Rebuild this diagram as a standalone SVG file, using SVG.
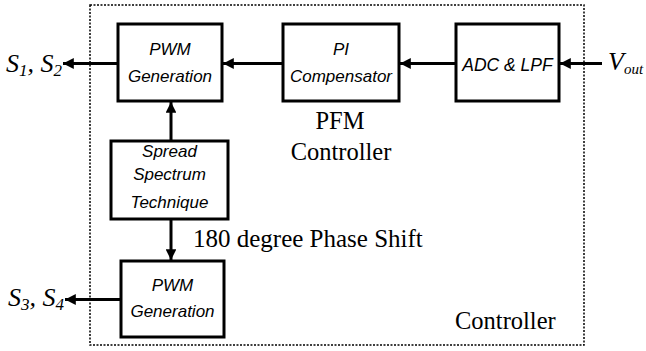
<svg xmlns="http://www.w3.org/2000/svg" width="646" height="351" viewBox="0 0 646 351">
<style>
.box{fill:#fff;stroke:#000;stroke-width:3}
.bt{font-family:"Liberation Sans",Arial,sans-serif;font-style:italic;font-size:17px;text-anchor:middle;fill:#000}
.st{font-family:"Liberation Serif","Times New Roman",serif;font-size:25px;fill:#000}
.sig{font-family:"Liberation Serif","Times New Roman",serif;font-style:italic;font-size:26px;fill:#000}
.ln{stroke:#000;stroke-width:3;fill:none;marker-end:url(#ah)}
</style>
<defs>
<marker id="ah" viewBox="0 0 10 10" refX="10" refY="5" markerWidth="4.3" markerHeight="3.6" orient="auto" markerUnits="strokeWidth">
<path d="M0,0 L10,5 L0,10 Z" fill="#000"/>
</marker>
</defs>
<rect id="outer" x="90" y="5" width="494" height="340" fill="none" stroke="#000" stroke-width="1.5" stroke-dasharray="2,1.5"/>
<g id="connectors">
<line class="ln" x1="118" y1="63.5" x2="63" y2="63.5"/>
<line class="ln" x1="283" y1="63.5" x2="223" y2="63.5"/>
<line class="ln" x1="456" y1="63.5" x2="400" y2="63.5"/>
<line class="ln" x1="602" y1="63.5" x2="560" y2="63.5"/>
<line class="ln" x1="171" y1="141" x2="171" y2="102"/>
<line class="ln" x1="171" y1="219" x2="171" y2="260"/>
<line class="ln" x1="121" y1="299.5" x2="65" y2="299.5"/>
</g>
<g id="pwm1">
<rect class="box" x="118" y="24" width="104" height="77"/>
<text class="bt" x="170" y="55">PWM</text>
<text class="bt" x="170" y="82">Generation</text>
</g>
<g id="pi">
<rect class="box" x="283" y="24" width="116" height="77"/>
<text class="bt" x="341" y="55">PI</text>
<text class="bt" x="341" y="82">Compensator</text>
</g>
<g id="adc">
<rect class="box" x="456" y="24" width="103" height="77"/>
<text class="bt" x="507.5" y="71" style="font-size:17.5px">ADC &amp; LPF</text>
</g>
<g id="spread">
<rect class="box" x="111" y="141" width="117" height="78"/>
<text class="bt" x="169.5" y="157">Spread</text>
<text class="bt" x="169.5" y="180">Spectrum</text>
<text class="bt" x="169.5" y="208">Technique</text>
</g>
<g id="pwm2">
<rect class="box" x="121" y="261" width="103" height="76"/>
<text class="bt" x="172.5" y="291">PWM</text>
<text class="bt" x="172.5" y="317">Generation</text>
</g>
<g id="labels">
<text class="sig" x="6" y="72">S<tspan font-size="17" dy="4">1</tspan><tspan dy="-4">, S</tspan><tspan font-size="17" dy="4">2</tspan></text>
<text class="sig" x="8" y="306">S<tspan font-size="17" dy="4">3</tspan><tspan dy="-4">, S</tspan><tspan font-size="17" dy="4">4</tspan></text>
<text class="sig" x="608" y="70">V<tspan font-size="15" dy="4">out</tspan></text>
<text class="st" x="340" y="129" text-anchor="middle" style="font-size:24.5px">PFM</text>
<text class="st" x="341" y="160" text-anchor="middle" style="font-size:24.5px">Controller</text>
<text class="st" x="193" y="247">180 degree Phase Shift</text>
<text class="st" x="455" y="329" style="font-size:24.5px">Controller</text>
</g>
</svg>
